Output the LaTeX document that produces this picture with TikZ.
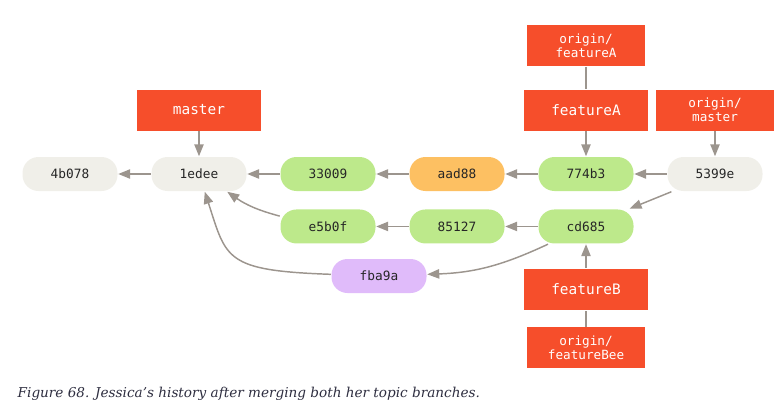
\documentclass[tikz,border=0pt]{standalone}
\usepackage{fontspec}
\setmonofont{DejaVu Sans Mono}
\newfontfamily\captionfont{DejaVu Serif}
\usetikzlibrary{positioning,arrows.meta}

\definecolor{branchred}{HTML}{F64E2B}
\definecolor{commitgray}{HTML}{F0EFE9}
\definecolor{commitgreen}{HTML}{BDE98B}
\definecolor{commitorange}{HTML}{FDC062}
\definecolor{commitpurple}{HTML}{E0BBFA}
\definecolor{linegray}{HTML}{9C958E}
\definecolor{captionblue}{HTML}{2E2E40}

\begin{document}
\begin{tikzpicture}[>={Triangle[length=9pt,width=7pt]},line width=1.1pt,
  node distance=24.4pt,
  commit/.style={rounded corners=12pt,fill=commitgray,minimum width=71.25pt,
    minimum height=25.5pt,text=black!85,font=\ttfamily\fontsize{9.6}{11}\selectfont},
  branch/.style={fill=branchred,minimum width=93pt,minimum height=30.75pt,
    text=white,font=\ttfamily\fontsize{10.8}{12}\selectfont},
  remote/.style={branch,minimum width=88.5pt,minimum height=30.5pt,align=center,
    font=\ttfamily\fontsize{9.5}{10.5}\selectfont}]

  \useasboundingbox (0,0) rectangle (586.5pt,-310.5pt);

  % commits
  \node[commit] (4b078) at (52.5pt,-130.5pt) {4b078};
  \node[commit] (1edee) [right=of 4b078] {1edee};
  \node[commit,fill=commitgreen] (33009) [right=of 1edee] {33009};
  \node[commit,fill=commitorange] (aad88) [right=of 33009] {aad88};
  \node[commit,fill=commitgreen] (774b3) [right=of aad88] {774b3};
  \node[commit] (5399e) [right=of 774b3] {5399e};
  \node[commit,fill=commitgreen] (e5b0f) [below=12.75pt of 33009] {e5b0f};
  \node[commit,fill=commitgreen] (85127) [right=of e5b0f] {85127};
  \node[commit,fill=commitgreen] (cd685) [right=of 85127] {cd685};
  \node[commit,fill=commitpurple] (fba9a) at (284.25pt,-207pt) {fba9a};

  % branches
  \node[branch] (master) [above=18.75pt of 1edee] {master};
  \node[branch] (featureA) [above=18.75pt of 774b3] {featureA};
  \node[remote] (originA) [above=16.5pt of featureA] {origin/\\featureA};
  \node[remote,minimum height=30.75pt] (originmaster) [above=18.75pt of 5399e] {origin/\\master};
  \node[branch] (featureB) [below=18pt of cd685] {featureB};
  \node[remote] (originB) [below=12pt of featureB] {origin/\\featureBee};

  \path[draw,color=linegray,->]
    (1edee) edge (4b078)
    (33009) edge (1edee)
    (aad88) edge (33009)
    (774b3) edge (aad88)
    (5399e) edge (774b3)
            edge (cd685)
    (cd685) edge (85127)
            edge [out=-155,in=2] (fba9a)
    (85127) edge (e5b0f)
    (e5b0f) edge [bend left=10] (1edee)
    (fba9a) edge [out=178,in=-72,out looseness=1.8,in looseness=1.2] (1edee)
    (master) edge (1edee)
    (featureA) edge (774b3)
    (originmaster) edge (5399e)
    (featureB) edge (cd685)
    (originA) edge [-] (featureA)
    (originB) edge [-] (featureB);

  \node[anchor=west,inner sep=0pt,text=captionblue,
    font=\captionfont\itshape\fontsize{10.2}{12}\selectfont] (caption)
    at (12.75pt,-295.5pt) {Figure 68. Jessica’s history after merging both her topic branches.};
\end{tikzpicture}
\end{document}
